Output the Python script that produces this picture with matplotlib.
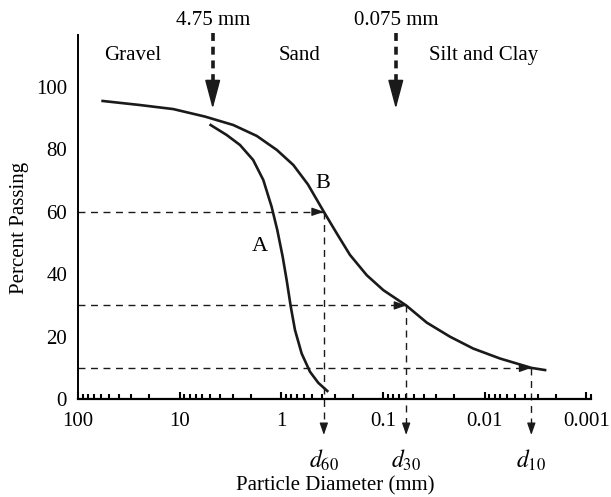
import matplotlib
matplotlib.use("Agg")
import matplotlib.pyplot as plt
from matplotlib.ticker import LogLocator, NullFormatter, FixedLocator, FixedFormatter

plt.rcParams['font.family'] = ['Liberation Serif', 'DejaVu Serif']
plt.rcParams['mathtext.fontset'] = 'stix'

# --- data ---
b_diam = [57.5, 24.7, 11.6, 5.66, 2.98, 1.75, 1.11, 0.765, 0.55, 0.383, 0.286, 0.212,
          0.145, 0.0995, 0.0593, 0.0372, 0.0220, 0.0130, 0.00708, 0.00348, 0.00255]
b_pass = [95.5, 94.2, 92.9, 90.5, 87.8, 84.3, 79.8, 75.0, 68.8, 60.0, 53.1, 46.2,
          39.7, 34.9, 30.0, 24.5, 20.0, 16.2, 13.0, 10.0, 9.3]
a_diam = [4.98, 3.46, 2.56, 1.90, 1.51, 1.25, 1.10, 0.973, 0.889, 0.812, 0.736,
          0.633, 0.524, 0.434, 0.354]
a_pass = [87.8, 84.6, 81.4, 76.6, 70.2, 61.6, 54.2, 45.6, 38.1, 29.8, 22.1,
          14.6, 8.75, 5.2, 2.6]

d_names = ['$d_{60}$', '$d_{30}$', '$d_{10}$']
d_diam = [0.383, 0.0593, 0.00348]
d_pass = [60, 30, 10]

bounds = [4.75, 0.075]
bound_labels = ['4.75 mm', '0.075 mm']
zones = ['Gravel', 'Sand', 'Silt and Clay']
zone_x = [28.8, 0.658, 0.0102]

xticks = [100, 10, 1, 0.1, 0.01, 0.001]
xtick_labels = ['100', '10', '1', '0.1', '0.01', '0.001']
yticks = [0, 20, 40, 60, 80, 100]

FS = 15
INK = '#1a1a1a'

fig = plt.figure(figsize=(6.11, 4.97), dpi=100)
ax = fig.add_axes([0.128, 0.197, 0.840, 0.733])

ax.plot(b_diam, b_pass, color=INK, lw=1.9, solid_joinstyle='round')
ax.plot(a_diam, a_pass, color=INK, lw=1.9, solid_joinstyle='round')

ax.set_xscale('log')
ax.set_xlim(100, 10 ** -3.05)
ax.set_ylim(0, 116.7)

small_head = dict(arrowstyle='-|>,head_length=0.8,head_width=0.28', color=INK, lw=0.9,
                  mutation_scale=9, shrinkA=0, shrinkB=0)

# d60 / d30 / d10 construction lines
for name, d, p in zip(d_names, d_diam, d_pass):
    ax.plot([100, d], [p, p], ls=(0, (5, 4)), color=INK, lw=1.0)
    ax.annotate('', xy=(d, p), xytext=(-8, 0), textcoords='offset points', arrowprops=small_head)
    ax.plot([d, d], [p, -9], ls=(0, (5, 4)), color=INK, lw=1.0, clip_on=False)
    ax.annotate('', xy=(d, -11.5), xytext=(0, 8), textcoords='offset points',
                arrowprops=small_head, annotation_clip=False)
    ax.text(d, -19.5, name, ha='center', va='center', fontsize=FS + 2, clip_on=False)

# gravel / sand / fines boundaries
big_head = dict(arrowstyle='-|>,head_length=0.9,head_width=0.24', color=INK, lw=1.2,
                mutation_scale=20, shrinkA=0, shrinkB=0)
for b, lab in zip(bounds, bound_labels):
    ax.plot([b, b], [117.2, 99], ls=(0, (2.2, 1.6)), color=INK, lw=2.6, clip_on=False)
    ax.annotate('', xy=(b, 93.0), xytext=(0, 14), textcoords='offset points',
                arrowprops=big_head, annotation_clip=False)
    ax.text(b, 121.3, lab, ha='center', va='center', fontsize=FS, clip_on=False)

for z, zx in zip(zones, zone_x):
    ax.text(zx, 110, z, ha='center', va='center', fontsize=FS)

ax.text(0.391, 69, 'B', ha='center', va='center', fontsize=FS + 1)
ax.text(1.63, 49, 'A', ha='center', va='center', fontsize=FS + 1)

ax.spines['top'].set_visible(False)
ax.spines['right'].set_visible(False)
ax.spines['left'].set_linewidth(1.4)
ax.spines['bottom'].set_linewidth(1.6)

ax.xaxis.set_major_locator(FixedLocator(xticks))
ax.xaxis.set_major_formatter(FixedFormatter(xtick_labels))
ax.xaxis.set_minor_locator(LogLocator(base=10, subs=range(2, 10)))
ax.xaxis.set_minor_formatter(NullFormatter())
ax.tick_params(axis='x', which='major', direction='in', length=5, width=1.5, labelsize=FS, pad=9)
ax.tick_params(axis='x', which='minor', direction='in', length=3.5, width=1.5)
ax.set_yticks(yticks)
ax.tick_params(axis='y', length=0, labelsize=FS, pad=8)

ax.set_xlabel('Particle Diameter (mm)', fontsize=FS, labelpad=33)
ax.set_ylabel('Percent Passing', fontsize=FS, labelpad=6)
ax.yaxis.set_label_coords(-0.095, 0.47)

fig.savefig('out.png', dpi=100)
